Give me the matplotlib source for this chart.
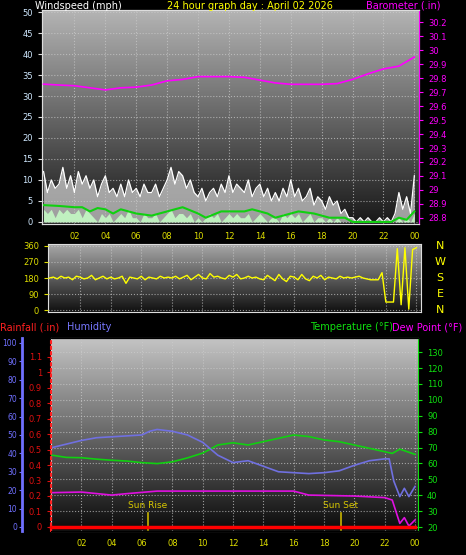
import numpy as np
import matplotlib
matplotlib.use("Agg")
import matplotlib.pyplot as plt

# ---------------- data ----------------
gust = [12,7,10,8, 9,13,8,11, 7,12,9,11, 8,10,6,9, 11,7,8,6, 9,6,10,7, 8,6,9,7, 7,9,6,8,
        10,13,9,12, 11,8,10,7, 6,8,5,7, 8,6,9,7, 11,7,9,8, 7,10,6,8, 9,6,8,5, 7,5,8,6,
        10,6,8,5, 6,8,4,6, 5,3,6,4, 5,2,3,1, 1,0,1,0, 1,0,0,1, 0,1,0,2, 7,3,6,2, 11]
speed = [3,2,3,1, 3,2,3,2, 2,3,1,3, 2,1,0,2, 1,2,0,1, 2,1,3,1, 1,0,2,1, 1,2,0,1,
         2,3,1,2, 2,1,2,0, 1,0,1,2, 1,2,0,1, 2,1,2,1, 1,2,0,1, 2,1,0,1, 1,0,2,1,
         2,1,2,0, 1,2,0,1, 1,0,1,0, 1,0,0,0, 0,0,0,0, 0,0,0,0, 0,0,0,0, 1,0,1,0, 2]
avg_t = [0,1,2,2.5,3,3.5,4,4.5,5,6,7,8,9,10,10.5,11.5,13,13.5,14.5,15,16.5,17.5,18.5,19.5,20,22.5,23,23.5,24]
avg_v = [4,3.8,3.5,3.5,2.5,3.3,3,2,3,2,1.5,2.5,3.5,2,1,2.5,2.5,3,2,1,2.5,2,1,1,0,0,1,0.5,2.5]
baro_t = list(range(25))
baro = [29.756,29.75,29.745,29.73,29.715,29.73,29.735,29.75,29.78,29.79,29.81,29.81,29.81,
        29.805,29.785,29.765,29.755,29.755,29.755,29.76,29.79,29.83,29.865,29.885,29.95]
wdir = [180,185,175,190, 180,185,170,190, 185,175,180,195, 170,180,190,175, 185,175,180,190,
        150,185,180,175, 190,170,185,180, 175,190,180,185, 180,190,175,185, 195,170,185,200,
        180,175,205,185, 190,180,175,195, 185,200,175,180, 190,180,185,175, 170,195,180,165,
        200,175,160,190, 185,170,200,175, 165,190,180,195, 170,185,180,175, 190,180,185,180,
        185,190,180,175, 170,170,170,210, 45,45,45,345, 30,350,5,340, 350]
hum_t = [0,1,2,3,4,5,6,6.5,7,8,9,10,11,12,13,14,15,16,17,18,19,20,21,22,22.3,22.6,23,23.3,23.6,24]
hum = [43,45,47,48.5,49,49.5,50,52,53,52,50,46,39,35,36,33,30,29.5,29,29.5,30.5,33.5,36,37,37,25,16.5,21,16.5,22]
temp_t = [0,1,2,3,4,5,6,7,8,9,10,10.5,11,12,13,14,15,16,17,18,19,20,21,22,22.5,23,24]
temp = [65.3,63.8,63.6,62.7,62,61.5,60.5,59.9,61,63.5,66.5,69,71.6,73,71.6,73.7,75.8,77.9,76.9,74.8,73.7,71.6,69.5,67.4,66.3,69,65.7]
dew_t = [0,2,4,5,7,10,13,16,17,20,22,22.5,23,23.3,23.6,24]
dew = [41.6,42,40.1,41,42.6,42.6,42.6,42.6,40.1,39.5,38.5,37,22.3,25.9,20.6,24.4]
rain_t = [0,24]
rain = [0,0]
hour_ticks = [2,4,6,8,10,12,14,16,18,20,22,24]
hour_labels = ["02","04","06","08","10","12","14","16","18","20","22","00"]

q = np.arange(len(gust)) * 0.25

W, H = 466, 555
fig = plt.figure(figsize=(W/100, H/100), dpi=100, facecolor="black")

def pos(l, t, r, b):
    return [l/W, 1-b/H, (r-l)/W, (b-t)/H]

def bg(ax, c1, c2):
    g = np.linspace(0, 1, 256).reshape(-1, 1)
    cmap = matplotlib.colors.LinearSegmentedColormap.from_list("g", [c2, c1])
    ax.imshow(g, aspect="auto", cmap=cmap, extent=[0, 1, 0, 1], transform=ax.transAxes,
              origin="lower", zorder=0)

def style(ax):
    ax.set_facecolor("black")
    for s in ax.spines.values():
        s.set_color("#dddddd")
    ax.grid(True, color="#cccccc", ls=":", lw=0.8, alpha=0.7)
    ax.set_axisbelow(False)

fs = 6
# ---------------- top panel ----------------
ax1 = fig.add_axes(pos(42, 10, 419, 224))
bg(ax1, "#b4b4b4", "#181818")
style(ax1)
ax1.fill_between(q, 0, gust, color="#d8d8d8", alpha=0.7, lw=0, zorder=2)
ax1.plot(q, gust, color="white", lw=0.9, zorder=3)
ax1.fill_between(q, 0, speed, color="#c0f0c0", lw=0, zorder=4)
ax1.plot(avg_t, avg_v, color="#10d010", lw=1.5, zorder=5)
ax1.set_xlim(-0.1, 24.3)
ax1.set_ylim(-0.5, 50.5)
ax1.set_yticks(range(0, 51, 5))
ax1.set_xticks(hour_ticks)
ax1.set_xticklabels(hour_labels)
ax1.tick_params(axis="x", colors="#dddd00", labelcolor="#dddd00", labelsize=fs, length=0, pad=6)
ax1.tick_params(axis="y", colors="#dddddd", labelcolor="#cfe8ff", labelsize=fs, length=3)
ax1b = ax1.twinx()
ax1b.plot(baro_t, baro, color="#ff00ff", lw=1.2, zorder=6)
ax1b.set_ylim(28.757, 30.286)
bt = np.round(np.arange(28.8, 30.25, 0.1), 1)
ax1b.set_yticks(bt)
ax1b.set_yticklabels([f"{v:g}" for v in bt])
ax1b.tick_params(axis="y", colors="#ff00ff", labelcolor="#ff00ff", labelsize=fs, length=3)
for s in ax1b.spines.values():
    s.set_color("#dddddd")
ax1b.spines["right"].set_color("#ff00ff")

fig.text(35/W, 1-6/H, "Windspeed (mph)", color="white", fontsize=7, va="center")
fig.text(250/W, 1-6/H, "24 hour graph day : April 02 2026", color="#ffff00", fontsize=7, va="center", ha="center")
fig.text(440/W, 1-6/H, "Barometer (.in)", color="#ff00ff", fontsize=7, va="center", ha="right")

# ---------------- middle panel ----------------
ax2 = fig.add_axes(pos(48, 244, 421, 312))
bg(ax2, "#a8a8a8", "#101010")
style(ax2)
ax2.plot(q, wdir, color="#ffff00", lw=1.0, zorder=3)
ax2.set_xlim(-0.1, 24.3)
ax2.set_ylim(-11, 371)
ax2.set_yticks([0, 90, 180, 270, 360])
ax2.set_xticks(hour_ticks)
ax2.set_xticklabels([])
ax2.tick_params(axis="x", length=0)
ax2.tick_params(axis="y", colors="#dddd00", labelcolor="#dddd00", labelsize=fs, length=3)
for i, c in enumerate("NWSEN"):
    fig.text(440/W, 1-(246+16*i)/H, c, color="#ffff00", fontsize=8, ha="center", va="center")

fig.text(0/W, 1-327/H, "Rainfall (.in)", color="#ff2020", fontsize=7, va="center")
fig.text(67/W, 1-327/H, "Humidity", color="#7878ff", fontsize=7, va="center")
fig.text(393/W, 1-327/H, "Temperature (°F)", color="#10e010", fontsize=7, va="center", ha="right")
fig.text(462/W, 1-327/H, "Dew Point (°F)", color="#ff00ff", fontsize=7, va="center", ha="right")

# ---------------- bottom panel ----------------
ax3 = fig.add_axes(pos(51, 338, 418, 531))
bg(ax3, "#c4c4c4", "#0a0a0a")
style(ax3)
ax3.set_xlim(0, 24.2)
ax3.set_ylim(17.5, 138.9)
ax3.plot(temp_t, temp, color="#10d010", lw=1.2, zorder=4)
ax3.plot(dew_t, dew, color="#e010e0", lw=1.2, zorder=4)
ax3.set_xticks(hour_ticks)
ax3.set_xticklabels(hour_labels)
ax3.tick_params(axis="x", colors="#dddd00", labelcolor="#dddd00", labelsize=fs, length=0, pad=6)
for x, lab in [(6.4, "Sun Rise"), (19.1, "Sun Set")]:
    ax3.plot([x, x], [18, 29], color="#c8b400", lw=1.2, zorder=5)
    ax3.text(x, 31, lab, color="#d8c800", fontsize=6.5, ha="center", va="bottom", zorder=5)

ax3h = ax3.twinx()
ax3r = ax3.twinx()
ax3.yaxis.tick_right()
ax3.set_yticks(range(20, 131, 10))
ax3.tick_params(axis="y", which="both", left=False, labelleft=False, right=True, labelright=True,
                colors="#10e010", labelcolor="#10e010", labelsize=fs, length=3)
ax3.spines["right"].set_color("#10e010")

ax3h.yaxis.tick_left()
ax3h.spines["left"].set_position(("outward", 21))
ax3h.spines["left"].set_color("#7070ff")
ax3h.spines["left"].set_linewidth(2)
ax3h.spines["right"].set_visible(False)
ax3h.set_ylim(-2.2, 102.7)
ax3h.set_yticks(range(0, 101, 10))
ax3h.tick_params(axis="y", colors="#7070ff", labelcolor="#7070ff", labelsize=5.5, length=2, pad=1.5)
ax3h.plot(hum_t, hum, color="#7070e0", lw=1.2, zorder=4)

ax3r.yaxis.tick_left()
ax3r.spines["left"].set_color("#ff2020")
ax3r.spines["left"].set_linestyle(":")
ax3r.spines["left"].set_linewidth(1.5)
ax3r.spines["right"].set_visible(False)
ax3r.set_ylim(-0.026, 1.22)
rt = np.round(np.arange(0, 1.15, 0.1), 1)
ax3r.set_yticks(rt)
ax3r.set_yticklabels([f"{v:g}" for v in rt])
ax3r.tick_params(axis="y", colors="#dd1010", labelcolor="#dd1010", labelsize=fs, length=3)
ax3r.plot(rain_t, rain, color="#ff0000", lw=2.5, zorder=6, clip_on=False)

fig.savefig("out.png", dpi=100, facecolor="black")
